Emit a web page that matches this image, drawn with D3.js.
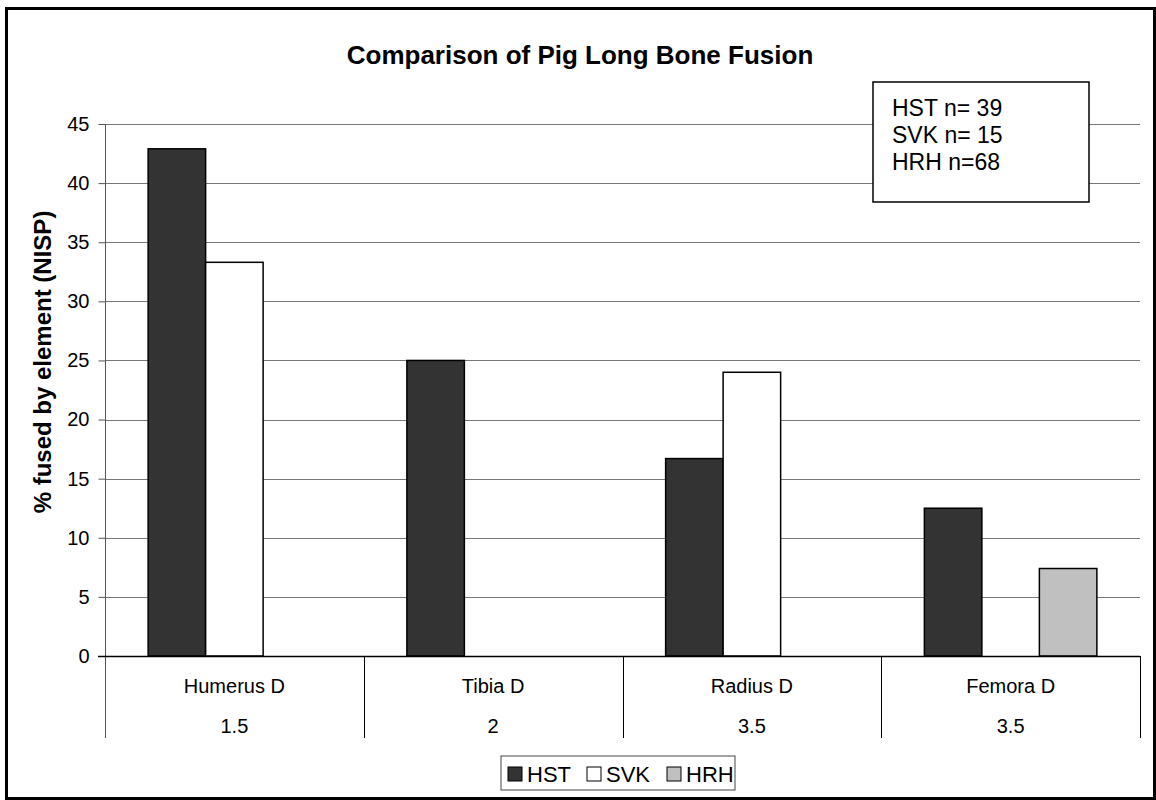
<!DOCTYPE html>
<html>
<head>
<meta charset="utf-8">
<script src="https://cdn.jsdelivr.net/npm/d3@7"></script>
<style>
  html, body { margin: 0; padding: 0; background: #fff; }
  svg { display: block; }
  text { font-family: "Liberation Sans", Arial, sans-serif; fill: #000; }
</style>
</head>
<body>
<svg id="chart" width="1156" height="800"></svg>
<script>
// ---- data ----
const categories = ["Humerus D", "Tibia D", "Radius D", "Femora D"];
const ageLabels = ["1.5", "2", "3.5", "3.5"];
const seriesNames = ["HST", "SVK", "HRH"];
const hstValues = [42.9, 25, 16.7, 12.5];
const svkValues = [33.3, 0, 24, 0];
const hrhValues = [0, 0, 0, 7.4];
const yTicks = [0, 5, 10, 15, 20, 25, 30, 35, 40, 45];
const seriesColors = ["#333333", "#ffffff", "#c0c0c0"];
const noteLines = ["HST n= 39", "SVK n= 15", "HRH n=68"];
const titleText = "Comparison of Pig Long Bone Fusion";
const yTitle = "% fused by element (NISP)";

const seriesValues = [hstValues, svkValues, hrhValues];

// ---- layout ----
const svg = d3.select("#chart");
const plot = { left: 105, right: 1140, top: 124, bottom: 656 };

// outer border
svg.append("rect")
  .attr("x", 6.5).attr("y", 8.5).attr("width", 1148).attr("height", 790)
  .attr("fill", "#fff").attr("stroke", "#000").attr("stroke-width", 3);

const y = d3.scaleLinear().domain([0, 45]).range([plot.bottom, plot.top]);
const x0 = d3.scaleBand().domain(categories).range([plot.left, plot.right]).padding(0);
const x1 = d3.scaleBand().domain(seriesNames).range([0, x0.bandwidth()])
  .paddingInner(0).paddingOuter(0.75);

// gridlines
svg.append("g").selectAll("line")
  .data(yTicks.filter(d => d > 0))
  .join("line")
  .attr("x1", plot.left).attr("x2", plot.right)
  .attr("y1", d => Math.round(y(d)) + 0.5).attr("y2", d => Math.round(y(d)) + 0.5)
  .attr("stroke", "#777").attr("stroke-width", 1);

// y axis
const yAxis = d3.axisLeft(y).tickValues(yTicks).tickSize(7).tickPadding(9).tickFormat(d3.format("d"));
const gy = svg.append("g").attr("transform", `translate(${plot.left + 0.5},0)`).call(yAxis);
gy.select(".domain").attr("stroke", "#555").attr("d", `M0,${plot.top}V738`);
gy.selectAll(".tick line").attr("stroke", "#555");
gy.selectAll(".tick text").attr("font-size", 20).attr("font-family", "Liberation Sans, Arial, sans-serif").attr("fill", "#000");

// bars
const barData = [];
categories.forEach((c, i) => {
  seriesNames.forEach((s, j) => {
    barData.push({ cat: c, series: s, value: seriesValues[j][i], color: seriesColors[j] });
  });
});
svg.append("g").selectAll("rect")
  .data(barData.filter(d => d.value > 0))
  .join("rect")
  .attr("x", d => x0(d.cat) + x1(d.series))
  .attr("width", x1.bandwidth())
  .attr("y", d => y(d.value))
  .attr("height", d => y(0) - y(d.value))
  .attr("fill", d => d.color)
  .attr("stroke", "#000").attr("stroke-width", 1.5);

// x axis baseline
svg.append("line")
  .attr("x1", plot.left - 7).attr("x2", plot.right)
  .attr("y1", plot.bottom + 0.5).attr("y2", plot.bottom + 0.5)
  .attr("stroke", "#000").attr("stroke-width", 1.5);

// category separators
const sepX = categories.map(c => x0(c) + x0.bandwidth());
svg.append("g").selectAll("line")
  .data(sepX)
  .join("line")
  .attr("x1", d => Math.round(d) + 0.5).attr("x2", d => Math.round(d) + 0.5)
  .attr("y1", plot.bottom).attr("y2", 738)
  .attr("stroke", "#000").attr("stroke-width", 1);

// category labels
svg.append("g").selectAll("text")
  .data(categories)
  .join("text")
  .attr("x", d => x0(d) + x0.bandwidth() / 2)
  .attr("y", 693)
  .attr("text-anchor", "middle")
  .attr("font-size", 20)
  .text(d => d);

svg.append("g").selectAll("text")
  .data(ageLabels)
  .join("text")
  .attr("x", (d, i) => x0(categories[i]) + x0.bandwidth() / 2)
  .attr("y", 733)
  .attr("text-anchor", "middle")
  .attr("font-size", 20)
  .text(d => d);

// title
svg.append("text")
  .attr("x", 580).attr("y", 64)
  .attr("text-anchor", "middle")
  .attr("font-size", 26).attr("font-weight", "bold")
  .text(titleText);

// y title
svg.append("text")
  .attr("transform", "translate(51,362) rotate(-90)")
  .attr("text-anchor", "middle")
  .attr("font-size", 24).attr("font-weight", "bold")
  .text(yTitle);

// note box
svg.append("rect")
  .attr("x", 873).attr("y", 82).attr("width", 216).attr("height", 120)
  .attr("fill", "#fff").attr("stroke", "#000").attr("stroke-width", 1.5);
svg.append("g").selectAll("text")
  .data(noteLines)
  .join("text")
  .attr("x", 892)
  .attr("y", (d, i) => 116 + i * 27)
  .attr("font-size", 23)
  .text(d => d);

// legend
const legend = svg.append("g");
legend.append("rect")
  .attr("x", 501).attr("y", 756).attr("width", 234).attr("height", 34)
  .attr("fill", "#fff").attr("stroke", "#444").attr("stroke-width", 1);
const legendItemX = [508, 587, 667];
seriesNames.forEach((s, j) => {
  legend.append("rect")
    .attr("x", legendItemX[j]).attr("y", 767).attr("width", 14).attr("height", 14)
    .attr("fill", seriesColors[j]).attr("stroke", "#000").attr("stroke-width", 1);
  legend.append("text")
    .attr("x", legendItemX[j] + 19).attr("y", 782)
    .attr("font-size", 22)
    .text(s);
});
</script>
</body>
</html>
